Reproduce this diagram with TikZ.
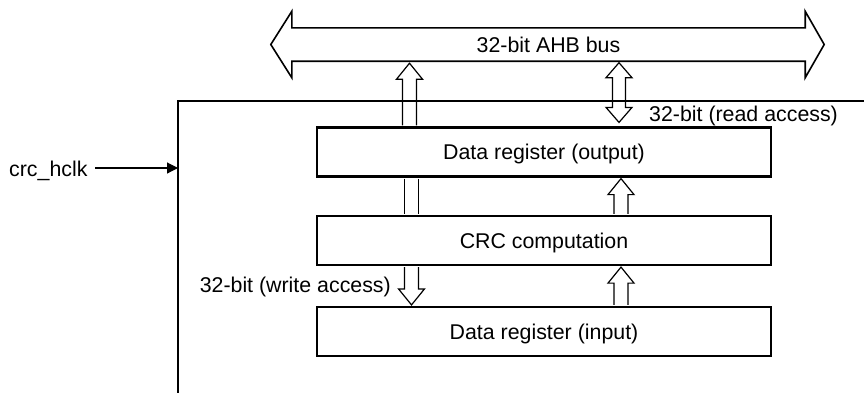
\documentclass[tikz,border=0pt]{standalone}
\usepackage{fontspec}
\setmainfont{Liberation Sans}
\usetikzlibrary{calc,arrows.meta}
\newcommand\upblk[2]{% tail, tip
  \draw[blk] let \p1=(#1), \p2=(#2) in
   (\x1-7pt,\y1) -- (\x1-7pt,\y2-16pt) -- (\x1-13pt,\y2-16pt) -- (\x1,\y2) --
   (\x1+13pt,\y2-16pt) -- (\x1+7pt,\y2-16pt) -- (\x1+7pt,\y1);}
\newcommand\downblk[2]{% tail, tip
  \draw[blk] let \p1=(#1), \p2=(#2) in
   (\x1-7pt,\y1) -- (\x1-7pt,\y2+16pt) -- (\x1-13pt,\y2+16pt) -- (\x1,\y2) --
   (\x1+13pt,\y2+16pt) -- (\x1+7pt,\y2+16pt) -- (\x1+7pt,\y1);}
\newcommand\shaftblk[2]{%
  \draw[blk] let \p1=(#1), \p2=(#2) in
   (\x1-7pt,\y1) -- (\x1-7pt,\y2) (\x1+7pt,\y1) -- (\x1+7pt,\y2);}
\newcommand\dblblk[2]{% top tip, bottom tip
  \draw[blk] let \p1=(#1), \p2=(#2) in
   (\x1,\y1) -- (\x1+13pt,\y1-15pt) -- (\x1+6.5pt,\y1-15pt) -- (\x1+6.5pt,\y2+15pt) --
   (\x1+13pt,\y2+15pt) -- (\x1,\y2) -- (\x1-13pt,\y2+15pt) -- (\x1-6.5pt,\y2+15pt) --
   (\x1-6.5pt,\y1-15pt) -- (\x1-13pt,\y1-15pt) -- cycle;}
\begin{document}
\begin{tikzpicture}[x=1pt,y=-1pt,
  lbl/.style={font=\fontsize{21.35}{25}\selectfont, inner sep=0pt},
  regbox/.style={draw, line width=2.2pt, fill=white, minimum width=454pt,
    minimum height=49pt, inner sep=0pt, text height=15.3pt, text depth=0pt,
    font=\fontsize{21.35}{25}\selectfont},
  blk/.style={line width=1.2pt, line join=miter},
  busline/.style={line width=1.6pt, line join=miter},
  frameline/.style={line width=1.6pt},
]
\useasboundingbox (0,0) rectangle (864,392);

% bus
\node[lbl, minimum width=513pt, minimum height=33pt, text height=15.3pt, text depth=0pt] (bus) at (548.5,44.5) {32-bit AHB bus};
\draw[busline] (bus.north west) -- (bus.north east) -- ($(bus.north east)+(0,-16.5)$)
  -- ($(bus.east)+(19,0)$) -- ($(bus.south east)+(0,16.5)$) -- (bus.south east)
  -- (bus.south west) -- ($(bus.south west)+(0,16.5)$) -- ($(bus.west)+(-21,0)$)
  -- ($(bus.north west)+(0,-16.5)$) -- cycle;

% frame
\coordinate (ftr) at (866,101);
\coordinate (ftl) at (178,101);
\coordinate (fbl) at (178,394);
\draw[frameline] (ftr) -- (ftl) -- (fbl);

% clock
\node[lbl, anchor=base west] (clk) at (9,176) {crc\_hclk};
\coordinate (clkstart) at (95,168);
\coordinate (clkend) at (178,168);
\draw[line width=1.2pt, -{Triangle[length=11pt,width=11pt]}] (clkstart) -- (clkend);

% registers
\node[regbox] (out) at (544,152) {Data register (output)};
\node[regbox] (crc) at (544,240.5) {CRC computation};
\node[regbox] (in)  at (544,331.5) {Data register (input)};

\coordinate (L1) at (409.5,0);
\coordinate (L2) at (411.5,0);
\coordinate (R1) at (619,0);
\coordinate (R2) at (621,0);

% left column
\upblk{$(out.north -| L1)+(0,-1)$}{$(bus.south -| L1)+(0,2)$}
\shaftblk{$(out.south -| L2)+(0,1)$}{$(crc.north -| L2)+(0,-1)$}
\downblk{$(crc.south -| L2)+(0,1)$}{$(in.north -| L2)+(0,-1)$}

% right column
\dblblk{$(bus.south -| R1)+(0,1.5)$}{$(out.north -| R1)+(0,-4)$}
\upblk{$(crc.north -| R2)+(0,-1)$}{$(out.south -| R2)+(0,1)$}
\upblk{$(in.north -| R2)+(0,-1)$}{$(crc.south -| R2)+(0,1)$}

% labels
\node[lbl, anchor=base west] (rd) at (649,121) {32-bit (read access)};
\node[lbl, anchor=base east] (wr) at (391,292) {32-bit (write access)};
\end{tikzpicture}
\end{document}
